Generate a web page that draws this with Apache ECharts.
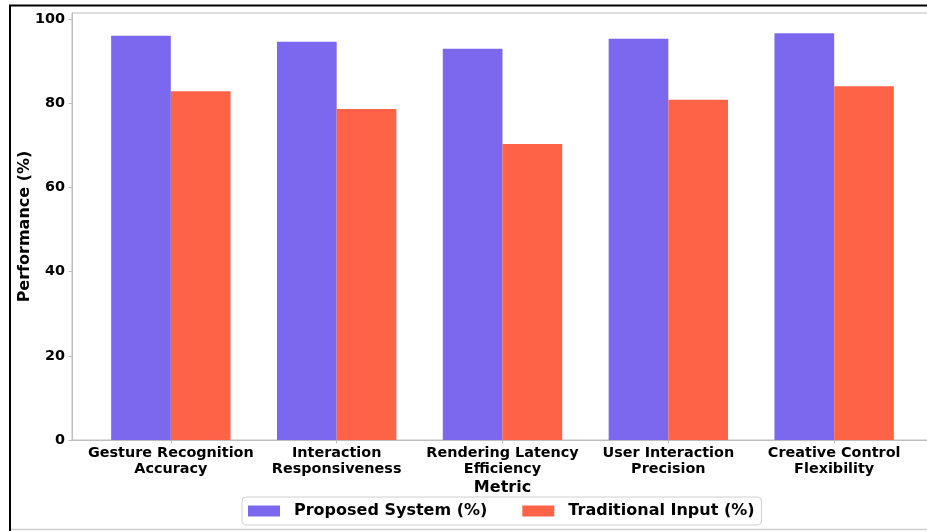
<!DOCTYPE html>
<html>
<head>
<meta charset="utf-8">
<style>
  html, body { margin: 0; padding: 0; background: #fff; }
  #chart { width: 927px; height: 531px; }
</style>
<script src="https://cdn.jsdelivr.net/npm/echarts@6/dist/echarts.min.js"></script>
</head>
<body>
<div id="chart"></div>
<script>
// Metrics compared between the two input approaches
const categories = [
  'Gesture Recognition\nAccuracy',
  'Interaction\nResponsiveness',
  'Rendering Latency\nEfficiency',
  'User Interaction\nPrecision',
  'Creative Control\nFlexibility'
];
const proposedSystem = [96.0, 94.6, 92.9, 95.3, 96.6];
const traditionalInput = [82.8, 78.6, 70.3, 80.8, 84.0];
const yTicks = [0, 20, 40, 60, 80, 100];
const seriesNames = ['Proposed System (%)', 'Traditional Input (%)'];

const FONT = 'DejaVu Sans';
const SPINE = '#bdbdbd';
const positions = categories.map((_, i) => i);

const chart = echarts.init(document.getElementById('chart'), null, { renderer: 'canvas' });

chart.setOption({
  animation: false,
  backgroundColor: '#ffffff',
  grid: {
    left: 72,
    top: 13,
    width: 861,
    bottom: 91,
    outerBoundsMode: 'none',
    containLabel: false,
    show: true,
    borderColor: SPINE,
    borderWidth: 1,
    backgroundColor: 'transparent'
  },
  xAxis: {
    type: 'value',
    min: -0.596,
    max: 4.596,
    name: 'Metric',
    nameLocation: 'middle',
    nameGap: 40,
    nameMoveOverlap: false,
    nameTextStyle: { fontFamily: FONT, fontWeight: 'bold', fontSize: 16, color: '#000' },
    axisLine: { show: true, onZero: false, lineStyle: { color: SPINE, width: 1 } },
    axisTick: { show: true, length: 3.5, customValues: positions, lineStyle: { color: SPINE } },
    splitLine: { show: false },
    axisLabel: {
      customValues: positions,
      margin: 5,
      fontFamily: FONT,
      fontWeight: 'bold',
      fontSize: 14.4,
      lineHeight: 16.5,
      color: '#000',
      align: 'center',
      formatter: v => categories[Math.round(v)] || ''
    }
  },
  yAxis: {
    type: 'value',
    min: 0,
    max: 101.4,
    name: 'Performance (%)',
    nameLocation: 'middle',
    nameGap: 39,
    nameMoveOverlap: false,
    nameTextStyle: { fontFamily: FONT, fontWeight: 'bold', fontSize: 16, color: '#000' },
    axisLine: { show: true, onZero: false, lineStyle: { color: SPINE, width: 1 } },
    axisTick: { show: true, length: 3.5, customValues: yTicks, lineStyle: { color: SPINE } },
    splitLine: { show: false },
    axisLabel: {
      customValues: yTicks,
      margin: 7,
      fontFamily: FONT,
      fontWeight: 'bold',
      fontSize: 14.4,
      color: '#000'
    }
  },
  legend: {
    left: 242,
    top: 497,
    orient: 'horizontal',
    icon: 'rect',
    itemWidth: 32,
    itemHeight: 11,
    itemGap: 35,
    padding: [6, 7, 6, 6],
    backgroundColor: '#ffffff',
    borderColor: '#d0d0d0',
    borderWidth: 1,
    borderRadius: 4,
    textStyle: {
      fontFamily: FONT,
      fontWeight: 'bold',
      fontSize: 16,
      color: '#000',
      padding: [0, 0, 0, 9]
    },
    data: seriesNames
  },
  series: [
    {
      name: seriesNames[0],
      type: 'bar',
      barWidth: '36%',
      barGap: '0%',
      itemStyle: { color: '#7B68EE' },
      data: proposedSystem.map((v, i) => [positions[i], v])
    },
    {
      name: seriesNames[1],
      type: 'bar',
      barWidth: '36%',
      barGap: '0%',
      itemStyle: { color: '#FF6347' },
      data: traditionalInput.map((v, i) => [positions[i], v])
    }
  ],
  graphic: [
    {
      type: 'polyline',
      silent: true,
      shape: { points: [[10, 531], [10, 5.5], [927, 5.5]] },
      style: { stroke: '#000', lineWidth: 2, fill: null }
    },
    {
      type: 'line',
      silent: true,
      shape: { x1: 11, y1: 529.5, x2: 927, y2: 529.5 },
      style: { stroke: '#cfcfcf', lineWidth: 1.5 }
    }
  ]
});
</script>
</body>
</html>
